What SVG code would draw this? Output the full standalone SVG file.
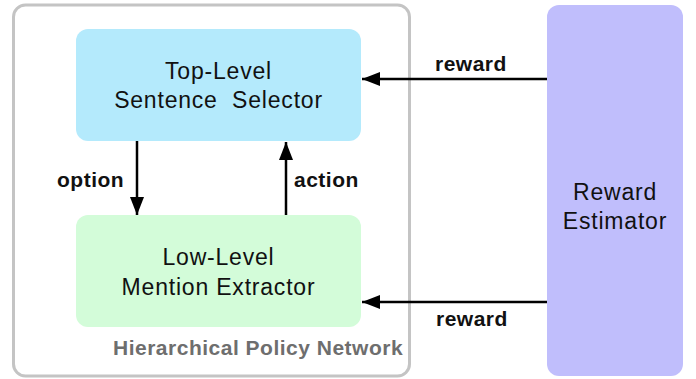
<svg xmlns="http://www.w3.org/2000/svg" width="696" height="379" viewBox="0 0 696 379">
<defs>
<style>
.node{font-family:"Liberation Sans",Arial,sans-serif;font-size:23px;letter-spacing:0.8px;fill:#111;text-anchor:middle}
.lbl{font-family:"Liberation Sans",Arial,sans-serif;font-size:21px;font-weight:bold;letter-spacing:0.5px;fill:#111}
.edge{stroke:#000;stroke-width:2.5;fill:none;marker-end:url(#ah)}
</style>
<marker id="ah" markerUnits="userSpaceOnUse" markerWidth="18" markerHeight="14" refX="18" refY="7" orient="auto">
<path d="M0,0 L18,7 L0,14 Z" fill="#000"/>
</marker>
</defs>
<rect width="696" height="379" fill="#fff"/>
<g id="policy-network">
<rect x="13.5" y="5" width="396" height="371" rx="12" fill="#fff" stroke="#c4c4c4" stroke-width="3"/>
<text class="lbl" x="113" y="354.5" style="fill:#6e6e6e">Hierarchical Policy Network</text>
</g>
<g id="top-level">
<rect x="76" y="29" width="285" height="112" rx="12" fill="#b4eafc"/>
<text class="node" x="218.5" y="78.5">Top-Level</text>
<text class="node" x="218.5" y="108" xml:space="preserve">Sentence  Selector</text>
</g>
<g id="low-level">
<rect x="76" y="215" width="285" height="112" rx="12" fill="#d3fcd9"/>
<text class="node" x="218.5" y="265">Low-Level</text>
<text class="node" x="218.5" y="295">Mention Extractor</text>
</g>
<g id="reward-estimator">
<rect x="547" y="5" width="136" height="371" rx="12" fill="#c0befc"/>
<text class="node" x="615" y="199.5">Reward</text>
<text class="node" x="615" y="228.5">Estimator</text>
</g>
<g id="connectors">
<line class="edge" x1="547" y1="79" x2="362" y2="79"/>
<line class="edge" x1="547" y1="302" x2="362" y2="302"/>
<line class="edge" x1="137" y1="141" x2="137" y2="215"/>
<line class="edge" x1="286" y1="215" x2="286" y2="142"/>
<text class="lbl" x="435" y="71">reward</text>
<text class="lbl" x="436" y="326">reward</text>
<text class="lbl" x="57" y="186.5">option</text>
<text class="lbl" x="294" y="186.5">action</text>
</g>
</svg>
